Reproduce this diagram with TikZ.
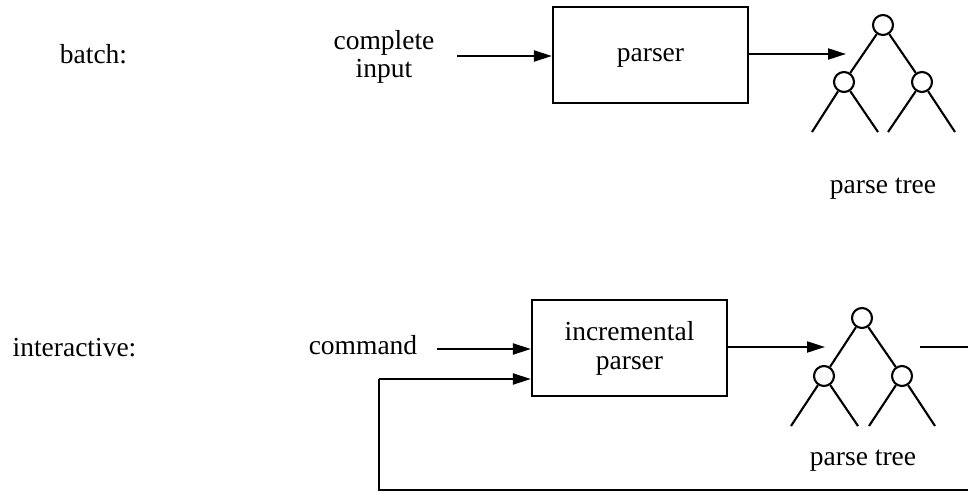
\documentclass[tikz,border=0pt]{standalone}
\usepackage{fontspec}
\setmainfont{Liberation Serif}
\usetikzlibrary{arrows.meta}
\begin{document}
\begin{tikzpicture}[x=1pt,y=-1pt,
  lbl/.style={font=\fontsize{27.5}{28.5}\selectfont, inner sep=0pt, align=center},
  procbox/.style={draw, line width=2.2pt, minimum width=195pt, minimum height=96pt, inner sep=0pt, font=\fontsize{27.5}{29}\selectfont},
  tnode/.style={draw, circle, line width=2.1pt, minimum size=20pt, inner sep=0pt},
  conn/.style={line width=2.1pt},
  arr/.style={line width=2.1pt, -{Triangle[length=18pt,width=11pt]}},
  edge/.style={line width=2.1pt}]
\useasboundingbox (0,0) rectangle (968,492);

% ---- batch ----
\node[lbl] (batch) at (93.5,54) {batch:};
\node[lbl] (cinput) at (384,57) {complete\\input};
\node[procbox, text height=20pt, text depth=6pt] (p1) at (650.5,55) {parser};
\coordinate (a1s) at (457,56);
\draw[arr] (a1s) -- (a1s -| p1.west);
\coordinate (t1tip) at (846,54);
\draw[arr] (p1.east |- t1tip) -- (t1tip);

\node[tnode] (t1a) at (883,25) {};
\node[tnode] (t1b) at (844,82) {};
\node[tnode] (t1c) at (922,82) {};
\coordinate (t1l1) at (812,132);
\coordinate (t1l2) at (878,132);
\coordinate (t1l3) at (888,132);
\coordinate (t1l4) at (955,132);
\draw[edge] (t1a) -- (t1b);
\draw[edge] (t1a) -- (t1c);
\draw[edge] (t1b) -- (t1l1);
\draw[edge] (t1b) -- (t1l2);
\draw[edge] (t1c) -- (t1l3);
\draw[edge] (t1c) -- (t1l4);
\node[lbl] (pt1) at (883,189) {parse tree};

% ---- interactive ----
\node[lbl] (inter) at (74.5,348) {interactive:};
\node[lbl] (cmd) at (363,345) {command};
\node[procbox, align=center] (p2) at (629.5,348) {incremental\\parser};
\coordinate (a2s) at (437,349);
\draw[arr] (a2s) -- (a2s -| p2.west);
\coordinate (t2tip) at (825,347);
\draw[arr] (p2.east |- t2tip) -- (t2tip);

\node[tnode] (t2a) at (862,318) {};
\node[tnode] (t2b) at (824,376) {};
\node[tnode] (t2c) at (902,376) {};
\coordinate (t2l1) at (791,426);
\coordinate (t2l2) at (858,426);
\coordinate (t2l3) at (869,426);
\coordinate (t2l4) at (935,426);
\draw[edge] (t2a) -- (t2b);
\draw[edge] (t2a) -- (t2c);
\draw[edge] (t2b) -- (t2l1);
\draw[edge] (t2b) -- (t2l2);
\draw[edge] (t2c) -- (t2l3);
\draw[edge] (t2c) -- (t2l4);
\node[lbl] (pt2) at (863,461) {parse tree};

% output stub and feedback loop
\coordinate (outs) at (920,347);
\coordinate (oute) at (968,347);
\draw[conn] (outs) -- (oute);
\coordinate (fbr) at (968,490);
\coordinate (fbl) at (379,490);
\coordinate (fbu) at (379,379);
\draw[conn] (fbr) -- (fbl) -- (fbu);
\draw[arr] (fbu) -- (fbu -| p2.west);
\end{tikzpicture}
\end{document}
